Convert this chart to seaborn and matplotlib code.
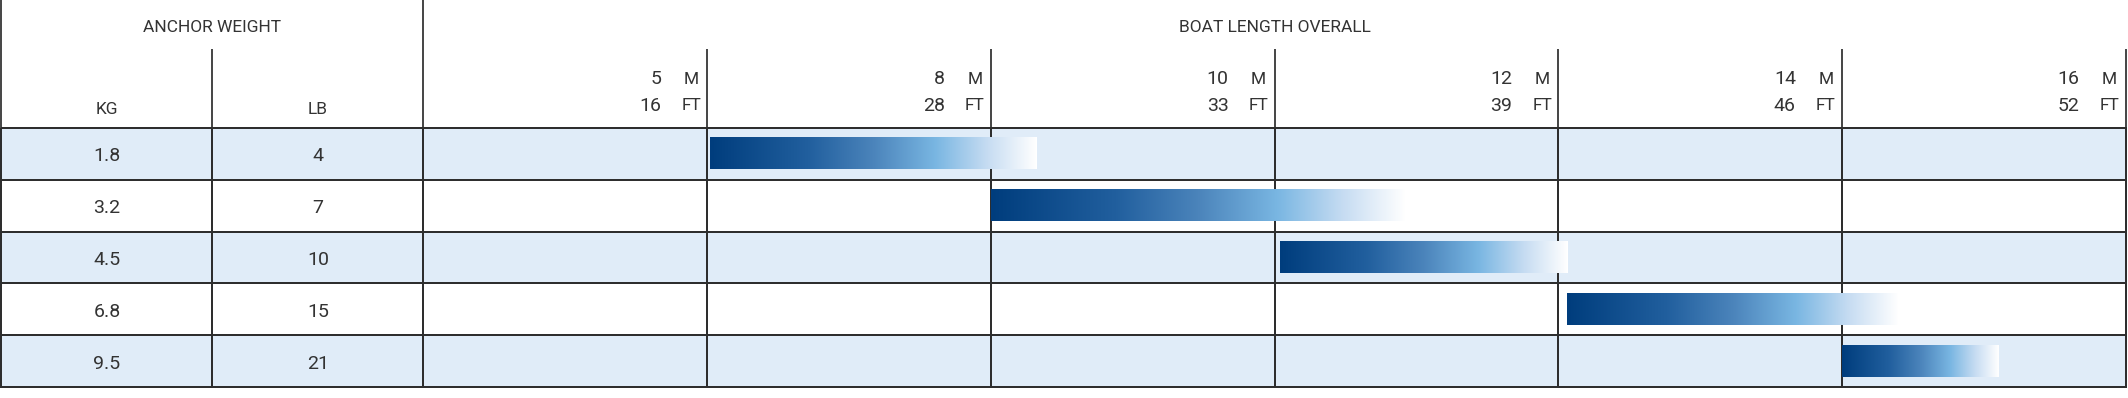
import numpy as np
import pandas as pd
import matplotlib
matplotlib.use("Agg")
import matplotlib.pyplot as plt
import seaborn as sns
from matplotlib.colors import ListedColormap, LinearSegmentedColormap

# anchor weights (one table row each)
kg = ["1.8", "3.2", "4.5", "6.8", "9.5"]
lb = ["4", "7", "10", "15", "21"]

# boat length classes (column headers)
len_m = [5, 8, 10, 12, 14, 16]
len_ft = [16, 28, 33, 39, 46, 52]

# recommended boat length per anchor, in length-class units
# (0 = left edge of the 5 m column, 1 = the 5 m line, ...)
bar_start = [1.01, 2.0, 3.02, 4.03, 5.0]
bar_end = [2.16, 3.46, 4.035, 5.2, 5.55]

# figure geometry (pixels)
W, H, DPI = 2128, 398, 100
split_px = 423.4          # border between weight table and boat chart
col_px = 283.7            # width of one boat length column
row_px = 51.92
head_px = 127.7           # header height
px_y = lambda y: (y - head_px) / row_px   # pixel row -> data row

grid_c = "#2e2e2e"
text_c = "#333333"
stripe_c = "#e0ecf8"

sns.set_theme(style="white")
plt.rcParams["font.family"] = ["Roboto", "DejaVu Sans"]

fig = plt.figure(figsize=(W / DPI, H / DPI), dpi=DPI)
ax_w = fig.add_axes([0, 0, split_px / W, 1])
ax_b = fig.add_axes([split_px / W, 0, 1 - split_px / W, 1])

n = len(kg)
stripe = (np.arange(n) % 2 == 0).astype(int)
stripe_cmap = ListedColormap(["white", stripe_c])

# weight table
sns.heatmap(pd.DataFrame(np.tile(stripe[:, None], (1, 2))), ax=ax_w,
            cmap=stripe_cmap, vmin=0, vmax=1, cbar=False,
            linewidths=1.25, linecolor=grid_c,
            annot=np.column_stack([kg, lb]), fmt="",
            annot_kws=dict(fontsize=14, color=text_c, fontweight="normal"),
            xticklabels=False, yticklabels=False)
# values sit a touch below the row centre
for t in ax_w.texts:
    tx, ty = t.get_position()
    t.set_position((tx, ty + 0.05))

# boat length grid
sns.heatmap(pd.DataFrame(np.tile(stripe[:, None], (1, len(len_m)))), ax=ax_b,
            cmap=stripe_cmap, vmin=0, vmax=1, cbar=False,
            linewidths=1.25, linecolor=grid_c,
            xticklabels=False, yticklabels=False)

for ax in (ax_w, ax_b):
    ax.collections[0].set_clip_on(False)

# gradient bars
bar_cmap = LinearSegmentedColormap.from_list("bar", [
    (0.0, "#003d7d"), (0.3, "#215f9e"), (0.5, "#4b84bb"),
    (0.69, "#79b6e2"), (0.85, "#c6dcf2"), (1.0, "#ffffff")])
grad = np.linspace(0, 1, 256)[None, :]
bh = 0.6
for i, (s, e) in enumerate(zip(bar_start, bar_end)):
    ax_b.imshow(grad, cmap=bar_cmap, aspect="auto", interpolation="bilinear",
                extent=(s, e, i + 0.5 + bh / 2, i + 0.5 - bh / 2), zorder=3)

y_top = px_y(0)
y_sub = px_y(49)
ylim = (n + (H - 387.3) / row_px, y_top)

# header lines
line_kw = dict(colors=grid_c, linewidth=1.25, clip_on=False)
ax_w.vlines(0, y_top, 0, **line_kw)
ax_w.vlines(1, y_sub, 0, **line_kw)
ax_b.vlines(0, y_top, 0, **line_kw)
ax_b.vlines(np.arange(1, len(len_m) + 1), y_sub, 0, **line_kw)

# header texts
head_kw = dict(color=text_c, fontsize=12.5, fontweight="normal", va="center")
ax_w.text(1, px_y(28), "ANCHOR WEIGHT", ha="center", **head_kw)
ax_b.text(len(len_m) / 2, px_y(28), "BOAT LENGTH OVERALL", ha="center", **head_kw)
ax_w.text(0.5, px_y(109), "KG", ha="center", **head_kw)
ax_w.text(1.5, px_y(109), "LB", ha="center", **head_kw)

num_dx = 46 / col_px
unit_dx = 16 / col_px
for j, (m, ft) in enumerate(zip(len_m, len_ft)):
    x = j + 1
    ax_b.text(x - num_dx, px_y(79), str(m), ha="right",
              **{**head_kw, "fontsize": 14})
    ax_b.text(x - num_dx, px_y(106), str(ft), ha="right",
              **{**head_kw, "fontsize": 14})
    ax_b.text(x - unit_dx, px_y(79), "M", ha="center", **head_kw)
    ax_b.text(x - unit_dx, px_y(106), "FT", ha="center", **head_kw)

ax_w.set_xlim(-1.4 / ((split_px - 1.4) / 2), 2)
ax_b.set_xlim(0, (W - split_px) / col_px)
for ax in (ax_w, ax_b):
    ax.set_ylim(*ylim)
    ax.set_axis_off()

fig.savefig("out.png", dpi=DPI, facecolor="white")
